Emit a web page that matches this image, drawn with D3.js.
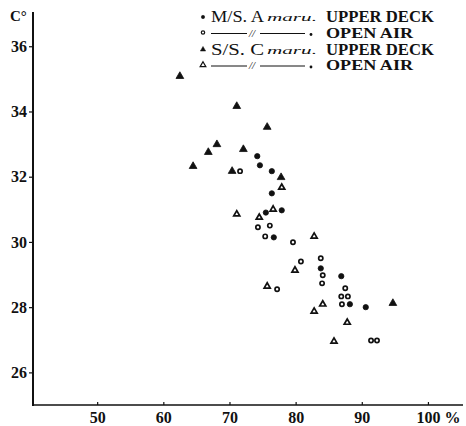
<!DOCTYPE html>
<html>
<head>
<meta charset="utf-8">
<script src="https://cdn.jsdelivr.net/npm/d3@7"></script>
<style>
  body { margin: 0; background: #fff; }
  svg { display: block; }
  .axis text { font-family: "Liberation Serif", serif; font-weight: bold; font-size: 16px; fill: #111; }
  .axis line { stroke: #111; stroke-width: 1.2; }
</style>
</head>
<body>
<svg width="466" height="426"></svg>
<script>
// humidity (%) and temperature (C)
const aUpperHum  = [74.2, 74.6, 76.4, 76.4, 75.5, 77.9, 76.7, 83.8, 86.9, 88.2, 90.6];
const aUpperTemp = [32.63, 32.35, 32.17, 31.49, 30.9, 30.97, 30.14, 29.19, 28.95, 28.09, 28.0];

const aOpenHum  = [71.6, 74.3, 76.1, 75.4, 79.6, 80.8, 83.8, 84.1, 84.0, 87.5, 86.9, 87.9, 87.0, 77.2, 91.4, 92.3];
const aOpenTemp = [32.17, 30.45, 30.5, 30.17, 29.99, 29.4, 29.5, 28.98, 28.73, 28.58, 28.33, 28.33, 28.09, 28.55, 26.98, 26.98];

const cUpperHum  = [62.5, 71.1, 75.7, 68.1, 66.8, 72.1, 64.5, 70.4, 77.8, 94.7];
const cUpperTemp = [35.08, 34.16, 33.52, 32.99, 32.75, 32.84, 32.32, 32.17, 31.98, 28.12];

const cOpenHum  = [77.9, 71.1, 76.6, 74.5, 82.8, 79.9, 84.1, 82.8, 87.8, 85.8, 75.7];
const cOpenTemp = [31.67, 30.85, 31.0, 30.75, 30.17, 29.13, 28.09, 27.87, 27.53, 26.95, 28.64];

const xTicks = [50, 60, 70, 80, 90, 100];
const yTicks = [26, 28, 30, 32, 34, 36];

const shipNames = ["M/S. A", "", "S/S. C", ""];
const placeNames = ["UPPER DECK", "OPEN AIR", "UPPER DECK", "OPEN AIR"];

const ink = "#111";
const svg = d3.select("svg");

const x = d3.scaleLinear().domain([40.3, 105.3]).range([33, 463]);
const y = d3.scaleLinear().domain([25, 37.05]).range([405, 12]);

// axis lines
svg.append("line")
    .attr("x1", 33).attr("x2", 33).attr("y1", 12).attr("y2", 406)
    .attr("stroke", ink).attr("stroke-width", 2);
svg.append("line")
    .attr("x1", 32).attr("x2", 463).attr("y1", 405).attr("y2", 405)
    .attr("stroke", ink).attr("stroke-width", 1.6);

// y axis
const yAxis = svg.append("g")
    .attr("class", "axis")
    .attr("transform", "translate(33,0)")
    .call(d3.axisLeft(y).tickValues(yTicks).tickSize(4).tickPadding(2));
yAxis.select(".domain").remove();

// x axis
const xAxis = svg.append("g")
    .attr("class", "axis")
    .attr("transform", "translate(0,405)")
    .call(d3.axisBottom(x).tickValues(xTicks).tickSizeInner(-3).tickSizeOuter(0).tickPadding(7)
      .tickFormat(d => d === 100 ? "100 %" : d));
xAxis.select(".domain").remove();
xAxis.selectAll(".tick text")
    .filter(d => d === 100)
    .attr("text-anchor", "start")
    .attr("x", -12);

// unit label
svg.append("text")
    .attr("x", 10).attr("y", 21)
    .style("font-family", "Liberation Serif, serif")
    .style("font-weight", "bold")
    .style("font-size", "15px")
    .attr("fill", ink)
    .text("C°");

// markers
function drawSeries(hum, temp, shape, filled) {
  svg.append("g").selectAll("path")
    .data(hum.map((h, i) => [h, temp[i]]))
    .enter().append("path")
      .attr("d", shape)
      .attr("transform", d => `translate(${x(d[0])},${y(d[1])})`)
      .attr("fill", filled ? ink : "#fff")
      .attr("stroke", ink)
      .attr("stroke-width", filled ? 0.8 : 1.7);
}

drawSeries(aUpperHum, aUpperTemp, d3.symbol().type(d3.symbolCircle).size(22), true);
drawSeries(aOpenHum, aOpenTemp, d3.symbol().type(d3.symbolCircle).size(14), false);
drawSeries(cUpperHum, cUpperTemp, d3.symbol().type(d3.symbolTriangle).size(26), true);
drawSeries(cOpenHum, cOpenTemp, d3.symbol().type(d3.symbolTriangle).size(16), false);

// legend
const legendRows = [16, 31.5, 48.5, 64];
const legendShapes = [
  d3.symbol().type(d3.symbolCircle).size(9),
  d3.symbol().type(d3.symbolCircle).size(9),
  d3.symbol().type(d3.symbolTriangle).size(12),
  d3.symbol().type(d3.symbolTriangle).size(14)
];
const legendFilled = [true, false, true, false];

const legend = svg.append("g")
    .style("font-family", "Liberation Serif, serif")
    .attr("fill", ink);

legendRows.forEach(function(ry, i) {
  legend.append("path")
      .attr("d", legendShapes[i])
      .attr("transform", `translate(203,${ry + 1})`)
      .attr("fill", legendFilled[i] ? ink : "#fff")
      .attr("stroke", ink)
      .attr("stroke-width", legendFilled[i] ? 0.5 : 1.2);

  if (shipNames[i]) {
    legend.append("text")
        .attr("x", 211).attr("y", ry + 6)
        .style("font-size", "17px")
        .attr("textLength", 53).attr("lengthAdjust", "spacingAndGlyphs")
        .text(shipNames[i]);
    legend.append("text")
        .attr("x", 267).attr("y", ry + 5)
        .style("font-size", "10px")
        .style("font-style", "italic")
        .attr("textLength", 50).attr("lengthAdjust", "spacingAndGlyphs")
        .text("maru.");
  } else {
    // ditto marks
    legend.append("line")
        .attr("x1", 211).attr("x2", 247).attr("y1", ry + 2).attr("y2", ry + 2)
        .attr("stroke", ink).attr("stroke-width", 1);
    legend.append("text")
        .attr("x", 249).attr("y", ry + 5)
        .style("font-size", "11px")
        .style("font-style", "italic")
        .text("//");
    legend.append("line")
        .attr("x1", 260).attr("x2", 305).attr("y1", ry + 2).attr("y2", ry + 2)
        .attr("stroke", ink).attr("stroke-width", 1);
    legend.append("circle")
        .attr("cx", 311).attr("cy", ry + 3).attr("r", 1.4);
  }

  legend.append("text")
      .attr("x", 326).attr("y", ry + 6)
      .style("font-size", i % 2 === 0 ? "17px" : "15px")
      .style("font-weight", "bold")
      .attr("textLength", i % 2 === 0 ? 108 : 87)
      .attr("lengthAdjust", "spacingAndGlyphs")
      .text(placeNames[i]);
});
</script>
</body>
</html>
